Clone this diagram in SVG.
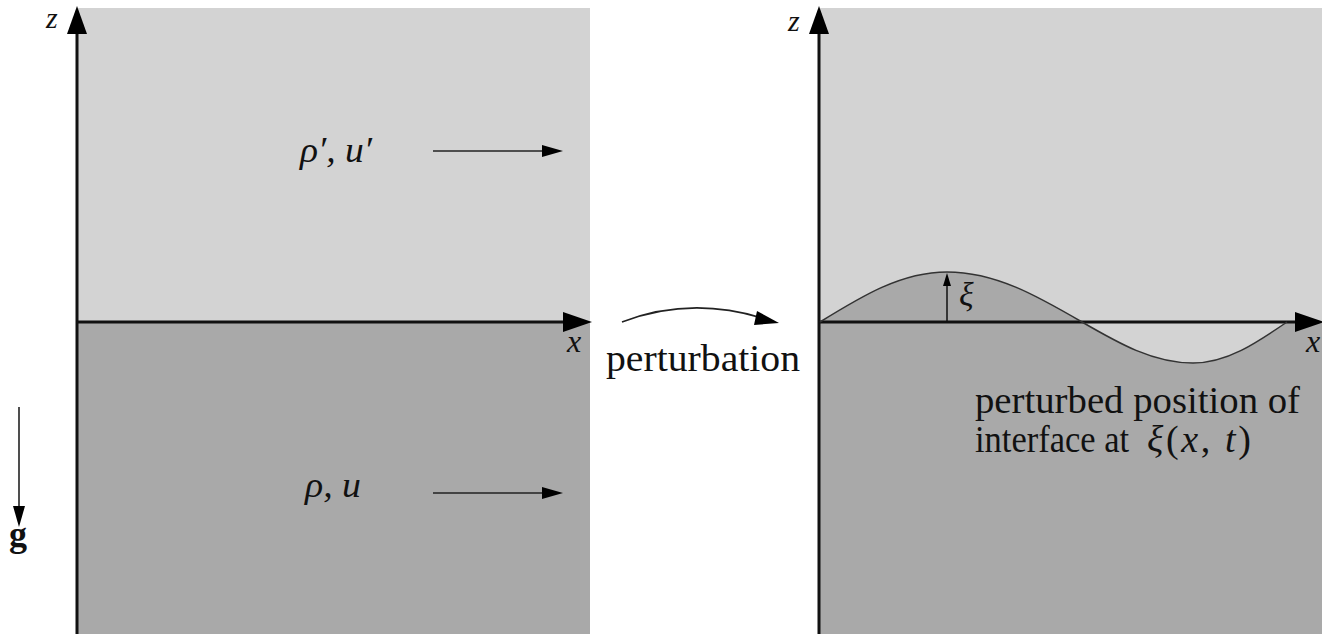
<svg xmlns="http://www.w3.org/2000/svg" width="1322" height="634" viewBox="0 0 1322 634">
<style>
.light{fill:#d3d3d3}
.dark{fill:#a9a9a9}
.axis{stroke:#111;stroke-width:3;fill:none}
.thin{stroke:#222;stroke-width:1.6;fill:none}
.head{fill:#000}
</style>
<rect width="1322" height="634" fill="#fff"/>
<g id="left-panel">
<rect class="light" x="78" y="8" width="512" height="314"/>
<rect class="dark" x="78" y="322" width="512" height="312"/>
</g>
<g id="right-panel">
<rect class="light" x="820" y="8" width="502" height="314"/>
<rect class="dark" x="820" y="322" width="502" height="312"/>
<path class="dark" d="M820,322 C861.4,296.4 901.1,272 947,272 C995.8,272 1038,296.4 1082,322 Z"/>
<path class="light" d="M1082,322 C1118.2,343 1152.9,363 1193,363 C1227,363 1256.4,343 1287,322 Z"/>
</g>
<g id="connectors">
<line class="axis" x1="77" y1="634" x2="77" y2="30"/>
<polygon class="head" points="77,6 67,34 87,34"/>
<line class="axis" x1="77" y1="322" x2="566" y2="322"/>
<polygon class="head" points="592,322 563,312 563,332"/>
<line class="axis" x1="819" y1="634" x2="819" y2="30"/>
<polygon class="head" points="819,6 809,34 829,34"/>
<line class="axis" x1="819" y1="322" x2="1298" y2="322"/>
<polygon class="head" points="1324,322 1295,312 1295,332"/>
<line class="thin" x1="433" y1="151" x2="546" y2="151"/>
<polygon class="head" points="563,151 542,145 542,157"/>
<line class="thin" x1="433" y1="493" x2="546" y2="493"/>
<polygon class="head" points="563,493 542,487 542,499"/>
<line class="thin" x1="19" y1="407" x2="19" y2="510"/>
<polygon class="head" points="19,527 13,506 25,506"/>
<path class="thin" d="M622,322 Q690,296 762,318"/>
<polygon class="head" points="779,323 757,311 754,325"/>
<path d="M820,322 C861.4,296.4 901.1,272 947,272 C995.8,272 1038,296.4 1082,322 C1118.2,343 1152.9,363 1193,363 C1227,363 1256.4,343 1287,322" fill="none" stroke="#333" stroke-width="1.5"/>
<line x1="947" y1="322" x2="947" y2="284" stroke="#111" stroke-width="1.5"/>
<polygon class="head" points="947,273 943,286 951,286"/>
</g>
<g id="labels" font-family="'Liberation Serif', 'DejaVu Serif', serif" fill="#111">
<text font-style="italic" x="46" y="28" font-size="30">z</text>
<text font-style="italic" x="788" y="31" font-size="30">z</text>
<text font-style="italic" x="567" y="352" font-size="32">x</text>
<text font-style="italic" x="1306" y="352" font-size="32">x</text>
<text font-style="italic" x="300" y="162" font-size="36" textLength="72" lengthAdjust="spacingAndGlyphs">ρ′, u′</text>
<text font-style="italic" x="305" y="497" font-size="36" textLength="56" lengthAdjust="spacingAndGlyphs">ρ, u</text>
<text x="9" y="546" font-size="36" font-weight="bold">g</text>
<text font-style="italic" x="959" y="306" font-size="34">ξ</text>
<text x="606" y="371" font-size="38" textLength="194" lengthAdjust="spacingAndGlyphs">perturbation</text>
<text x="975" y="413" font-size="38" textLength="325" lengthAdjust="spacingAndGlyphs">perturbed position of</text>
<text x="975" y="452" font-size="38" textLength="154" lengthAdjust="spacingAndGlyphs">interface at</text>
<text x="1147" y="452" font-size="38" textLength="104" lengthAdjust="spacing"><tspan font-style="italic">ξ</tspan>(<tspan font-style="italic">x</tspan>, <tspan font-style="italic">t</tspan>)</text>
</g>
</svg>
